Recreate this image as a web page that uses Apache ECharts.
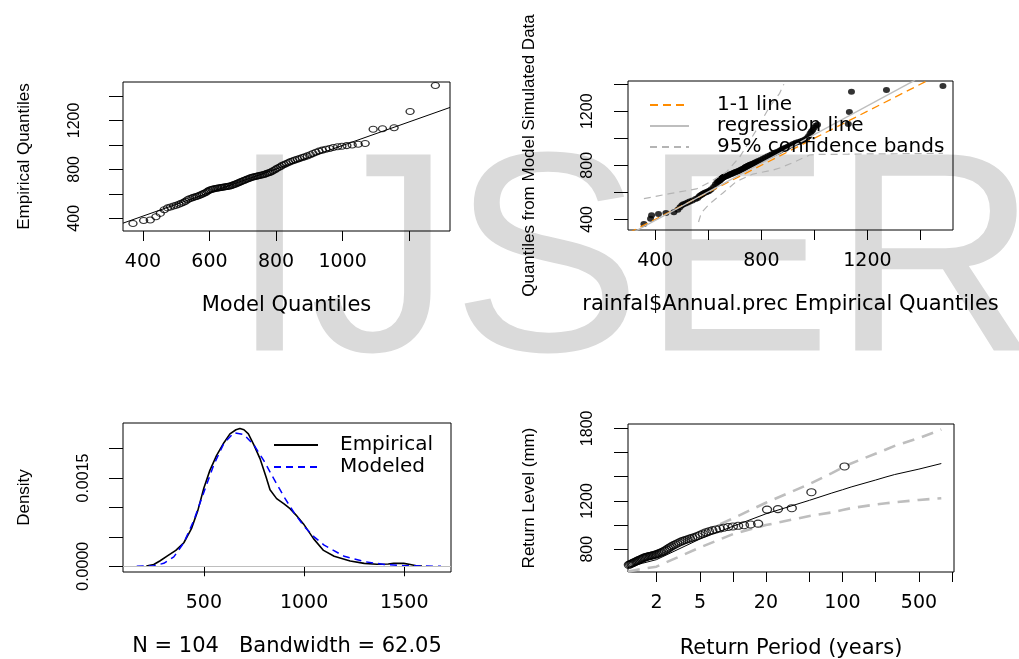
<!DOCTYPE html>
<html>
<head>
<meta charset="utf-8">
<script src="https://cdn.jsdelivr.net/npm/echarts@6/dist/echarts.min.js"></script>
<style>
html,body{margin:0;padding:0;background:#ffffff;}
#chart{width:1019px;height:659px;}
</style>
</head>
<body>
<div id="chart"></div>
<script>
// ---------- data ----------
// Panel 1: GEV model quantiles vs sorted annual precipitation
const modelQuantiles = [
  370,402,422,439,452,464,474,483,492,500,
  508,515,522,528,534,540,547,552,558,563,
  569,574,579,584,589,594,598,603,608,612,
  617,622,626,631,635,639,644,648,653,657,
  661,666,670,674,679,683,688,692,696,701,
  705,710,714,719,723,728,732,737,742,746,
  751,756,761,766,771,776,781,786,791,797,
  802,808,814,819,825,831,838,844,851,857,
  864,871,879,886,894,903,911,920,929,939,
  950,961,972,985,998,1013,1029,1047,1068,1092,
  1120,1155,1203,1279
];
const empiricalQuantiles = [
  357,382,386,412,440,470,485,493,500,506,
  514,522,530,540,552,560,566,571,576,580,
  586,592,598,604,611,620,627,633,637,640,
  643,645,647,649,651,653,655,657,659,661,
  664,667,671,676,681,686,691,696,701,706,
  711,716,721,726,731,735,738,741,744,747,
  750,753,756,760,765,770,775,781,788,797,
  806,815,824,833,840,848,856,864,871,877,
  883,889,896,902,910,920,930,940,949,957,
  964,971,978,984,989,994,999,1005,1012,1128,
  1132,1140,1272,1485
];
const qqLineX = [340, 1323];
const qqLineY = [360, 1306];

// Panel 2: quantiles of model-simulated data vs empirical quantiles
const simulatedQuantiles = [
  365,405,430,440,447,452,470,490,505,512,
  518,525,532,540,550,558,570,578,584,590,
  596,600,606,612,622,640,660,672,680,684,
  688,692,696,700,703,706,709,712,714,716,
  718,720,722,726,731,735,740,744,748,752,
  756,760,765,770,775,779,783,787,790,793,
  796,799,802,805,809,813,818,824,832,840,
  849,858,867,875,882,889,896,903,910,916,
  922,928,934,940,948,958,966,972,978,984,
  990,1000,1015,1035,1050,1062,1078,1092,1100,1106,
  1195,1345,1358,1387
];
const oneToOneX = [300, 1450];
const oneToOneY = [300, 1450];
const regressionX = [300, 1380];
const regressionY = [286, 1431];
const bandUpperX = [357,454,555,605,668,718,781,831,869,885];
const bandUpperY = [553,590,625,675,750,860,1060,1234,1333,1400];
const bandLowerX = [563,574,605,655,706,768,844,869,919,982,1005,1128,1140,1272,1485];
const bandLowerY = [380,450,515,595,680,735,765,780,820,876,880,882,883,885,888];

// Panel 3: density curves
const densEmpX = [213,250,280,320,360,400,438,470,500,530,563,600,630,660,680,700,722,750,780,810,
  830,863,900,930,960,997,1047,1097,1150,1230,1300,1363,1420,1447,1497,1530,1560,1588];
const densEmpY = [0.000005,0.00003,0.00009,0.00018,0.00027,0.0004,0.00064,0.00095,0.00133,0.00163,
  0.00188,0.0021,0.00225,0.00232,0.00234,0.00232,0.00225,0.00206,0.00183,0.00152,
  0.0013,0.00115,0.00106,0.00098,0.00087,0.00072,0.00047,0.00027,0.00017,0.00009,
  0.00005,0.000035,0.00004,0.00005,0.00005,0.00003,0.00001,0.000003];
const densModX = [165,250,300,350,400,450,500,550,600,650,700,750,800,850,900,950,1000,1050,1100,1200,1300,1400,1500,1600,1683];
const densModY = [0,0.00001,0.00005,0.00016,0.0004,0.00078,0.00126,0.00173,0.00209,0.00227,0.00224,0.00206,0.00179,
  0.00148,0.00118,0.00091,0.00068,0.0005,0.00036,0.00017,0.00008,0.00003,0.00001,0.000004,0.000001];

// Panel 4: return level plot
const returnPeriods = [
  0.215,0.252,0.281,0.306,0.328,0.349,0.369,0.388,0.407,0.425,
  0.443,0.461,0.479,0.496,0.514,0.532,0.549,0.567,0.585,0.603,
  0.621,0.640,0.659,0.678,0.697,0.716,0.736,0.757,0.777,0.798,
  0.820,0.842,0.864,0.887,0.910,0.934,0.959,0.984,1.010,1.036,
  1.063,1.091,1.120,1.150,1.180,1.212,1.244,1.277,1.312,1.348,
  1.385,1.423,1.463,1.504,1.547,1.591,1.637,1.685,1.735,1.787,
  1.841,1.898,1.958,2.020,2.085,2.154,2.226,2.301,2.382,2.466,
  2.556,2.650,2.751,2.858,2.972,3.094,3.224,3.364,3.515,3.678,
  3.854,4.044,4.252,4.482,4.733,5.010,5.316,5.659,6.046,6.485,
  6.988,7.564,8.237,9.033,9.990,11.15,12.61,14.49,16.98,20.49,
  25.77,34.48,52.08,104.5
];
const rlPeriods = [1.1,1.5,2,5,10,20,50,80,100,120,200,250,300,500,800];
const rlLevel   = [650,685,714,885,990,1093,1205,1265,1292,1315,1372,1398,1418,1463,1509];
const rlUpper   = [688,728,772,935,1055,1185,1340,1430,1475,1510,1590,1625,1655,1720,1790];
const rlLower   = [615,640,656,815,925,1000,1075,1105,1125,1140,1170,1180,1188,1208,1222];

// tick / label values
const p1XTicks = [400,600,800,1000,1200], p1XLabels = [400,600,800,1000];
const p1YTicks = [400,600,800,1000,1200,1400], p1YLabels = [400,800,1200];
const p2XTicks = [400,600,800,1000,1200,1400], p2XLabels = [400,800,1200];
const p2YTicks = [400,600,800,1000,1200,1400], p2YLabels = [400,800,1200];
const p3XTicks = [500,1000,1500], p3XLabels = [500,1000,1500];
const p3YTicks = [0,0.0005,0.001,0.0015,0.002], p3YLabels = [0,0.0015];
const p4XTicks = [2,5,10,20,50,100,200,500,1000], p4XLabels = [2,5,20,100,500];
const p4YTicks = [800,1000,1200,1400,1600,1800], p4YLabels = [800,1200,1800];

// ---------- helpers ----------
const SANS = "'DejaVu Sans', 'Liberation Sans', sans-serif";
const ROT = "'Liberation Sans', Arial, sans-serif";
const zip = (xs, ys) => xs.map((x, i) => [x, ys[i]]);

function xAxisOf(grid, min, max, ticks, labels, name, nameGap, extra) {
  return Object.assign({
    type: 'value', gridIndex: grid, min: min, max: max,
    name: name, nameLocation: 'middle', nameGap: nameGap,
    nameTextStyle: {fontFamily: SANS, fontSize: 21, color: '#000'},
    axisLine: {show: false}, splitLine: {show: false},
    axisTick: {show: true, inside: false, length: 10, customValues: ticks, lineStyle: {color: '#000', width: 1}},
    axisLabel: {show: true, customValues: labels, fontFamily: SANS, fontSize: 19, color: '#000', margin: 22,
                formatter: v => String(v)}
  }, extra || {});
}
function yAxisOf(grid, min, max, ticks, labels, name, labelMargin, fmt) {
  return {
    type: 'value', gridIndex: grid, min: min, max: max,
    name: name, nameLocation: 'middle', nameGap: 90, nameRotate: 90,
    nameTextStyle: {fontFamily: ROT, fontSize: 17, color: '#000'},
    axisLine: {show: false}, splitLine: {show: false},
    axisTick: {show: true, inside: false, length: 14, customValues: ticks, lineStyle: {color: '#000', width: 1}},
    axisLabel: {show: true, customValues: labels, rotate: 90, fontFamily: ROT, fontSize: 16, color: '#000',
                margin: labelMargin, formatter: fmt || (v => String(v))}
  };
}
function lineSeries(name, xi, data, color, width, type, z) {
  return {
    name: name, type: 'line', xAxisIndex: xi, yAxisIndex: xi, data: data,
    symbol: 'none', showSymbol: false, clip: true, silent: true, z: z || 3,
    itemStyle: {color: color}, lineStyle: {color: color, width: width, type: type}
  };
}
const gridBase = {show: true, borderColor: '#000', borderWidth: 1, backgroundColor: 'transparent',
                  containLabel: false, outerBoundsMode: 'none'};
const legendIconStyle = {color: 'transparent', borderColor: 'transparent', borderWidth: 0, opacity: 0};

const option = {
  animation: false,
  backgroundColor: '#ffffff',
  textStyle: {fontFamily: SANS},
  graphic: [{
    type: 'text', z: -10, silent: true,
    style: {text: 'IJSER', x: 230, y: 272, fill: '#dadada',
            font: '285px "Liberation Sans", Arial, sans-serif', textAlign: 'left', verticalAlign: 'middle'}
  }],
  grid: [
    Object.assign({left: 123, top: 82, width: 327, height: 149}, gridBase),
    Object.assign({left: 628, top: 81, width: 325, height: 149}, gridBase),
    Object.assign({left: 123, top: 423, width: 328, height: 149}, gridBase),
    Object.assign({left: 628, top: 424, width: 326, height: 148}, gridBase)
  ],
  xAxis: [
    xAxisOf(0, 340, 1323, p1XTicks, p1XLabels, 'Model Quantiles', 64),
    xAxisOf(1, 297, 1523, p2XTicks, p2XLabels, 'rainfal$Annual.prec Empirical Quantiles', 64),
    xAxisOf(2, 96.5, 1733, p3XTicks, p3XLabels, 'N = 104   Bandwidth = 62.05', 64),
    xAxisOf(3, 1.10, 1045, p4XTicks, p4XLabels, 'Return Period (years)', 66, {type: 'log', logBase: 10})
  ],
  yAxis: [
    yAxisOf(0, 296, 1514, p1YTicks, p1YLabels, 'Empirical Quantiles', 40),
    yAxisOf(1, 321, 1424, p2YTicks, p2YLabels, 'Quantiles from Model Simulated Data', 32),
    yAxisOf(2, -0.000097, 0.002435, p3YTicks, p3YLabels, 'Density', 31, v => Number(v).toFixed(4)),
    yAxisOf(3, 612, 1836, p4YTicks, p4YLabels, 'Return Level (mm)', 32)
  ],
  legend: [
    {
      data: ['1-1 line', 'regression line', '95% confidence bands'],
      orient: 'vertical', left: 644, top: 90, padding: 5,
      itemWidth: 39, itemHeight: 14, itemGap: 1, selectedMode: false,
      itemStyle: legendIconStyle,
      textStyle: {fontFamily: SANS, fontSize: 20, color: '#000', padding: [0, 0, 0, 23]}
    },
    {
      data: ['Empirical', 'Modeled'],
      orient: 'vertical', left: 268, top: 430, padding: 5,
      itemWidth: 44, itemHeight: 14, itemGap: 2, selectedMode: false,
      itemStyle: legendIconStyle,
      textStyle: {fontFamily: SANS, fontSize: 20, color: '#000', padding: [0, 0, 0, 17]}
    }
  ],
  series: [
    // Panel 1
    {
      name: 'quantiles', type: 'scatter', xAxisIndex: 0, yAxisIndex: 0, silent: true, clip: true,
      data: zip(modelQuantiles, empiricalQuantiles),
      symbol: 'circle', symbolSize: [8, 6],
      itemStyle: {color: 'transparent', borderColor: '#000', borderWidth: 1.2}
    },
    lineSeries('qqline', 0, zip(qqLineX, qqLineY), '#000', 1, 'solid'),
    // Panel 2
    {
      name: 'simulated', type: 'scatter', xAxisIndex: 1, yAxisIndex: 1, silent: true, clip: true,
      data: zip(empiricalQuantiles, simulatedQuantiles),
      symbol: 'circle', symbolSize: [7, 6], itemStyle: {color: '#000'}
    },
    lineSeries('1-1 line', 1, zip(oneToOneX, oneToOneY), '#ff8c00', 1.3, [8, 5]),
    lineSeries('regression line', 1, zip(regressionX, regressionY), '#bebebe', 1.3, 'solid'),
    lineSeries('95% confidence bands', 1, zip(bandUpperX, bandUpperY), '#b4b4b4', 1.2, [7, 5]),
    lineSeries('95% confidence bands', 1, zip(bandLowerX, bandLowerY), '#b4b4b4', 1.2, [7, 5]),
    // Panel 3
    Object.assign(lineSeries('Empirical', 2, zip(densEmpX, densEmpY), '#000', 1.6, 'solid'), {
      markLine: {silent: true, symbol: 'none', label: {show: false},
                 lineStyle: {color: '#bebebe', type: 'solid', width: 1}, data: [{yAxis: 0}]}
    }),
    lineSeries('Modeled', 2, zip(densModX, densModY), '#0000ff', 1.5, [7, 5], 4),
    // Panel 4
    lineSeries('return level', 3, zip(rlPeriods, rlLevel), '#000', 1, 'solid'),
    lineSeries('ci upper', 3, zip(rlPeriods, rlUpper), '#bebebe', 2.6, [12, 8]),
    lineSeries('ci lower', 3, zip(rlPeriods, rlLower), '#bebebe', 2.6, [12, 8]),
    {
      name: 'observed', type: 'scatter', xAxisIndex: 3, yAxisIndex: 3, silent: true, clip: true, z: 5,
      data: zip(returnPeriods, empiricalQuantiles),
      symbol: 'circle', symbolSize: [9, 7],
      itemStyle: {color: 'transparent', borderColor: '#000', borderWidth: 1.2}
    }
  ]
};

const chart = echarts.init(document.getElementById('chart'), null, {renderer: 'canvas'});
chart.setOption(option);
</script>
</body>
</html>
